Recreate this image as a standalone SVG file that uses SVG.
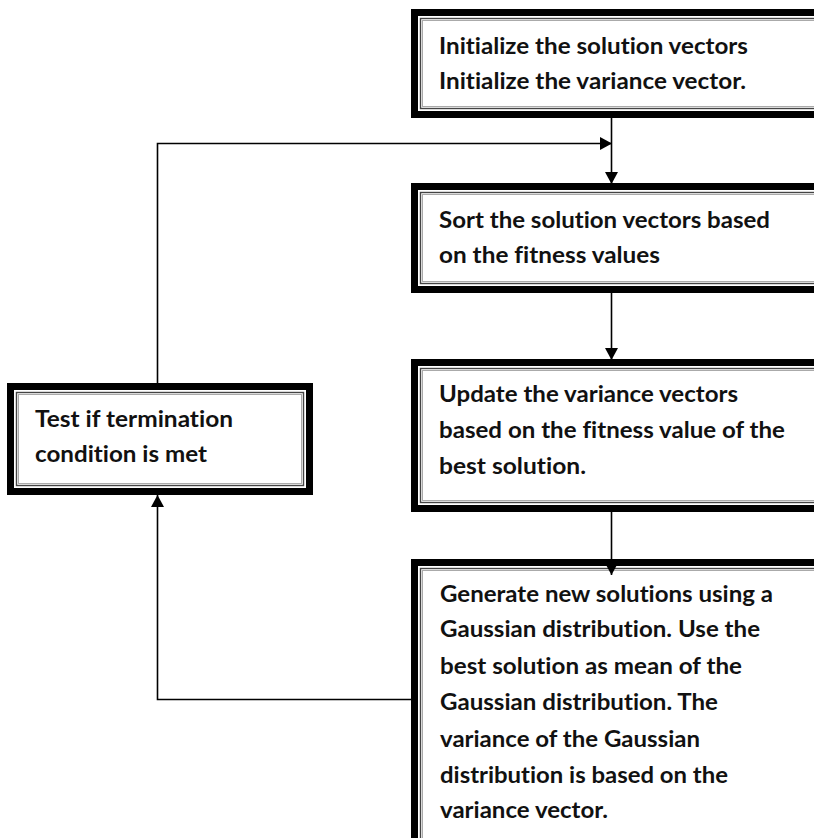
<svg xmlns="http://www.w3.org/2000/svg" width="814" height="838" viewBox="0 0 814 838">
<style>
.thick{fill:#fff;stroke:#000;stroke-width:7}
.in1{fill:none;stroke:#444;stroke-width:1.4}
.in2{fill:none;stroke:#aaa;stroke-width:1}
.t{font-family:Lato,"Open Sans",sans-serif;font-weight:bold;font-size:22px;fill:#111;font-variant-ligatures:none;font-feature-settings:"liga" 0,"clig" 0,"dlig" 0}
.c{fill:none;stroke:#000;stroke-width:1.6}
</style>
<defs>
<marker id="ah" markerUnits="userSpaceOnUse" markerWidth="12" markerHeight="13" refX="12" refY="6.5" orient="auto" viewBox="0 0 12 13">
<path d="M0,0 L12,6.5 L0,13 z" fill="#000"/>
</marker>
</defs>
<rect width="814" height="838" fill="#fff"/>
<g id="init">
<rect class="thick" x="414.5" y="12.5" width="420" height="102"/>
<rect class="in1" x="420.5" y="18.5" width="420" height="90"/>
<rect class="in2" x="422.5" y="20.5" width="420" height="86"/>
<text class="t" x="439" y="54" textLength="309" lengthAdjust="spacingAndGlyphs">Initialize the solution vectors</text>
<text class="t" x="439" y="89" textLength="307" lengthAdjust="spacingAndGlyphs">Initialize the variance vector.</text>
</g>
<g id="sort">
<rect class="thick" x="414.5" y="186.5" width="420" height="103"/>
<rect class="in1" x="420.5" y="192.5" width="420" height="91"/>
<rect class="in2" x="422.5" y="194.5" width="420" height="87"/>
<text class="t" x="439" y="228" textLength="331" lengthAdjust="spacingAndGlyphs">Sort the solution vectors based</text>
<text class="t" x="439" y="263" textLength="221" lengthAdjust="spacingAndGlyphs">on the fitness values</text>
</g>
<g id="update">
<rect class="thick" x="414.5" y="362.5" width="420" height="146"/>
<rect class="in1" x="420.5" y="368.5" width="420" height="134"/>
<rect class="in2" x="422.5" y="370.5" width="420" height="130"/>
<text class="t" x="439" y="402" textLength="299" lengthAdjust="spacingAndGlyphs">Update the variance vectors</text>
<text class="t" x="439" y="438" textLength="346" lengthAdjust="spacingAndGlyphs">based on the fitness value of the</text>
<text class="t" x="439" y="474" textLength="147" lengthAdjust="spacingAndGlyphs">best solution.</text>
</g>
<g id="generate">
<rect class="thick" x="414.5" y="562.5" width="420" height="400"/>
<rect class="in1" x="420.5" y="568.5" width="420" height="400"/>
<rect class="in2" x="422.5" y="570.5" width="420" height="400"/>
<text class="t" x="440" y="602" textLength="333" lengthAdjust="spacingAndGlyphs">Generate new solutions using a</text>
<text class="t" x="440" y="637" textLength="320" lengthAdjust="spacingAndGlyphs">Gaussian distribution. Use the</text>
<text class="t" x="440" y="674" textLength="302" lengthAdjust="spacingAndGlyphs">best solution as mean of the</text>
<text class="t" x="440" y="710" textLength="278" lengthAdjust="spacingAndGlyphs">Gaussian distribution. The</text>
<text class="t" x="440" y="747" textLength="260" lengthAdjust="spacingAndGlyphs">variance of the Gaussian</text>
<text class="t" x="440" y="783" textLength="288" lengthAdjust="spacingAndGlyphs">distribution is based on the</text>
<text class="t" x="440" y="818" textLength="168" lengthAdjust="spacingAndGlyphs">variance vector.</text>
</g>
<g id="test">
<rect class="thick" x="10.5" y="386.5" width="299" height="105"/>
<rect class="in1" x="16.5" y="392.5" width="287" height="93"/>
<rect class="in2" x="18.5" y="394.5" width="283" height="89"/>
<text class="t" x="35" y="427" textLength="198" lengthAdjust="spacingAndGlyphs">Test if termination</text>
<text class="t" x="35" y="462" textLength="172" lengthAdjust="spacingAndGlyphs">condition is met</text>
</g>
<g id="connectors">
<path class="c" d="M611.5,118 V184" marker-end="url(#ah)"/>
<path class="c" d="M157.5,383 V143.5 H612" marker-end="url(#ah)"/>
<path class="c" d="M611.5,293 V360" marker-end="url(#ah)"/>
<path class="c" d="M611.5,512 V575" marker-end="url(#ah)"/>
<path class="c" d="M411,699.5 H157.5 V495" marker-end="url(#ah)"/>
</g>
</svg>
